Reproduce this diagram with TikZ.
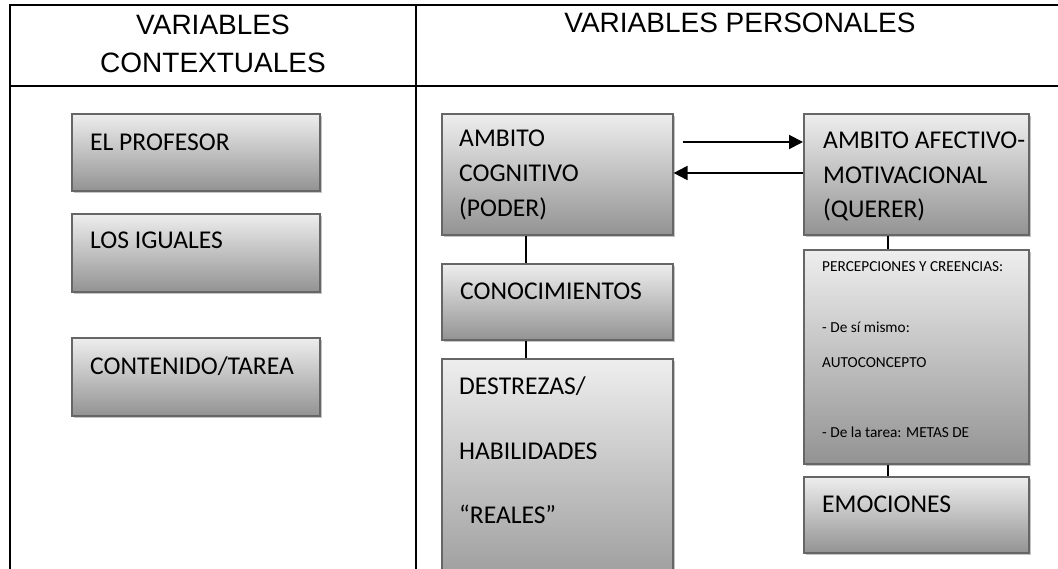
\documentclass[tikz,border=0pt]{standalone}
\usepackage{fontspec}
\setmainfont{Liberation Sans}
\newfontfamily\carl{Carlito}
\newfontfamily\arialf{Liberation Sans}
\usetikzlibrary{arrows.meta,shadows}
\definecolor{gtop}{HTML}{EEEEEE}
\definecolor{gbot}{HTML}{939393}
\definecolor{bordc}{HTML}{666666}
\definecolor{shadc}{HTML}{C4C4C4}
\tikzset{
  box/.style={rectangle, draw=bordc, line width=1.6pt, top color=gtop, bottom color=gbot,
    drop shadow={shadow xshift=2.5pt, shadow yshift=-2.5pt, fill=shadc, opacity=1},
    inner sep=0pt, anchor=north west},
  txt/.style={font=\carl\fontsize{25.6}{28}\selectfont, anchor=base west, inner sep=0pt},
  smalltxt/.style={font=\carl\fontsize{15.3}{18}\selectfont, anchor=base west, inner sep=0pt},
  head/.style={font=\arialf\fontsize{28}{32}\selectfont, anchor=base, inner sep=0pt},
  tab/.style={line width=1.5pt, draw=black},
  conn/.style={line width=2pt, draw=black},
  arr/.style={line width=2pt, draw=black, -{Triangle[length=14pt,width=14pt]}}
}
\begin{document}
\begin{tikzpicture}[x=1pt,y=-1pt]
\useasboundingbox (0,0) rectangle (1058,569);
\clip (0,0) rectangle (1058,569);
\fill[white] (0,0) rectangle (1058,569);
% table
\draw[tab] (10,600) -- (10,5) -- (1080,5);
\draw[tab] (416,5) -- (416,600);
\draw[tab] (10,86) -- (1080,86);
\node[head] (h1) at (213,35) {VARIABLES};
\node[head] (h2) at (213,73) {CONTEXTUALES};
\node[head] (h3) at (740,33) {VARIABLES PERSONALES};
% left column boxes
\node[box, minimum width=248pt, minimum height=77pt] (prof) at (71,113) {};
\node[box, minimum width=248pt, minimum height=78pt] (igu) at (71,213) {};
\node[box, minimum width=248pt, minimum height=78pt] (cont) at (71,337) {};
\node[txt] (tprof) at (90,151) {EL PROFESOR};
\node[txt] (tigu) at (90,249) {LOS IGUALES};
\node[txt] (tcont) at (90,374) {CONTENIDO/TAREA};
% cognitive column
\node[box, minimum width=231pt, minimum height=121pt] (cog) at (441,113) {};
\node[box, minimum width=231pt, minimum height=76pt] (con) at (441,263) {};
\node[box, minimum width=231pt, minimum height=250pt] (des) at (441,358) {};
\node[txt] (tcog1) at (459,147) {AMBITO};
\node[txt] (tcog2) at (459,182) {COGNITIVO};
\node[txt] (tcog3) at (459,217) {(PODER)};
\node[txt] (tcon) at (460,300) {CONOCIMIENTOS};
\node[txt] (tdes1) at (459,395) {DESTREZAS/};
\node[txt] (tdes2) at (459,459) {HABILIDADES};
\node[txt] (tdes3) at (459,523) {“REALES”};
% affective column
\node[box, minimum width=225pt, minimum height=121pt] (afe) at (803,113) {};
\node[box, minimum width=225pt, minimum height=214pt] (per) at (803,249) {};
\node[box, minimum width=225pt, minimum height=76pt] (emo) at (803,476) {};
\node[txt] (tafe1) at (823,149) {AMBITO AFECTIVO-};
\node[txt] (tafe2) at (823,184) {MOTIVACIONAL};
\node[txt] (tafe3) at (823,218) {(QUERER)};
\node[smalltxt] (tper1) at (822,272) {PERCEPCIONES Y CREENCIAS:};
\node[smalltxt] (tper2) at (822,333) {- De sí mismo:};
\node[smalltxt] (tper3) at (822,368) {AUTOCONCEPTO};
\node[smalltxt] (tper4) at (822,437) {- De la tarea: METAS DE};
\node[txt] (temo) at (822,512) {EMOCIONES};
% connectors
\draw[conn] ([xshift=85pt]cog.south west) -- ([xshift=85pt]con.north west);
\draw[conn] ([xshift=85pt]con.south west) -- ([xshift=85pt]des.north west);
\draw[conn] ([xshift=85pt]afe.south west) -- ([xshift=85pt]per.north west);
\draw[conn] ([xshift=85pt]per.south west) -- ([xshift=85pt]emo.north west);
% arrows
\coordinate (a1s) at (683,142);
\draw[arr] (a1s) -- (a1s -| afe.west);
\draw[arr] ([yshift=-60pt]afe.north west) -- ([yshift=-60pt]cog.north east);
\end{tikzpicture}
\end{document}
